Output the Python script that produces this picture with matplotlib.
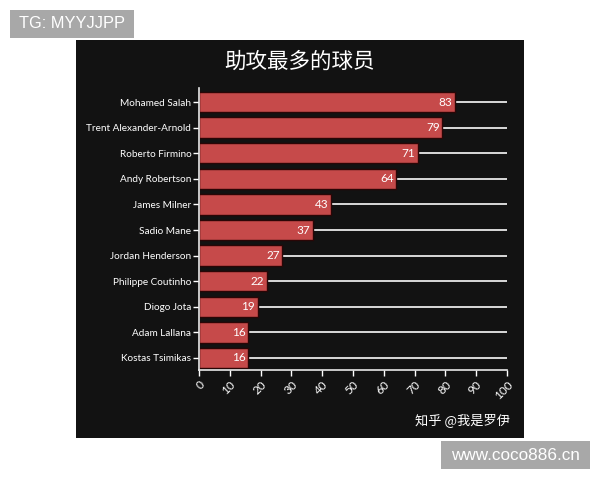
import matplotlib
matplotlib.use("Agg")
import matplotlib.pyplot as plt
from matplotlib.patches import Rectangle

players = ["Mohamed Salah", "Trent Alexander-Arnold", "Roberto Firmino", "Andy Robertson",
           "James Milner", "Sadio Mane", "Jordan Henderson", "Philippe Coutinho",
           "Diogo Jota", "Adam Lallana", "Kostas Tsimikas"]
assists = [83, 79, 71, 64, 43, 37, 27, 22, 19, 16, 16]
xticks = [0, 10, 20, 30, 40, 50, 60, 70, 80, 90, 100]
title = "助攻最多的球员"

plt.rcParams['font.family'] = ['Lato', 'Noto Sans CJK SC', 'DejaVu Sans']
cjk = ['Noto Sans CJK SC', 'DejaVu Sans']

W, H = 600, 480
fig = plt.figure(figsize=(6, 4.8), dpi=100, facecolor='white')

def fx(px): return px / W
def fy(py): return 1 - py / H

# black panel
fig.patches.append(Rectangle((fx(76), fy(438)), fx(524) - fx(76), fy(40) - fy(438),
                             transform=fig.transFigure, facecolor='#121212', edgecolor='none', zorder=-5))
# gray labels
fig.patches.append(Rectangle((fx(10), fy(38)), fx(134) - fx(10), fy(10) - fy(38),
                             transform=fig.transFigure, facecolor='#a8a8a8', edgecolor='none', zorder=-5))
fig.text(fx(72), fy(24), "TG: MYYJJPP", color='white', fontsize=11.8, ha='center', va='center',
         family=['Liberation Sans', 'DejaVu Sans'])
fig.patches.append(Rectangle((fx(441), fy(469)), fx(590) - fx(441), fy(441) - fy(469),
                             transform=fig.transFigure, facecolor='#a8a8a8', edgecolor='none', zorder=-5))
fig.text(fx(515), fy(455), "www.coco886.cn", color='white', fontsize=12.3, ha='center', va='center',
         family=['Liberation Sans', 'DejaVu Sans'])

ax = fig.add_axes([fx(199), fy(370), fx(507) - fx(199), fy(88) - fy(370)])
ax.set_facecolor('none')
ax.set_zorder(2)

ypos = list(range(len(players)))
ax.hlines(ypos, 0, 100, colors='#e8e8e8', linewidth=1.3, zorder=1)
ax.barh(ypos, assists, height=0.8, color='#c64a4a', edgecolor='#2a0606', linewidth=1.0, zorder=2)
for y, v in zip(ypos, assists):
    ax.text(v - 0.8, y, str(v), color='white', fontsize=8.5, ha='right', va='center', zorder=3)

ax.set_xlim(0, 100)
ax.set_ylim(len(players) - 0.53, -0.55)
ax.set_yticks(ypos)
ax.set_yticklabels(players, color='white', fontsize=7.2)
ax.set_xticks(xticks)
ax.set_xticklabels([str(t) for t in xticks], color='white', fontsize=8.5,
                   rotation=45, ha='right', rotation_mode='anchor')
ax.tick_params(axis='y', colors='white', length=4.5, width=1, pad=1)
ax.tick_params(axis='x', colors='white', length=4.5, width=1, pad=2)
for s in ['top', 'right']:
    ax.spines[s].set_visible(False)
for s in ['left', 'bottom']:
    ax.spines[s].set_color('#e8e8e8')
    ax.spines[s].set_linewidth(1.2)

fig.text(fx(300), fy(62), title, color='white', fontsize=15.5, ha='center', va='center', family=cjk)
fig.text(fx(510), fy(420), "知乎 @我是罗伊", color='white', fontsize=9.5, ha='right', va='center', family=cjk)

fig.savefig("out.png", dpi=100, facecolor='white')
